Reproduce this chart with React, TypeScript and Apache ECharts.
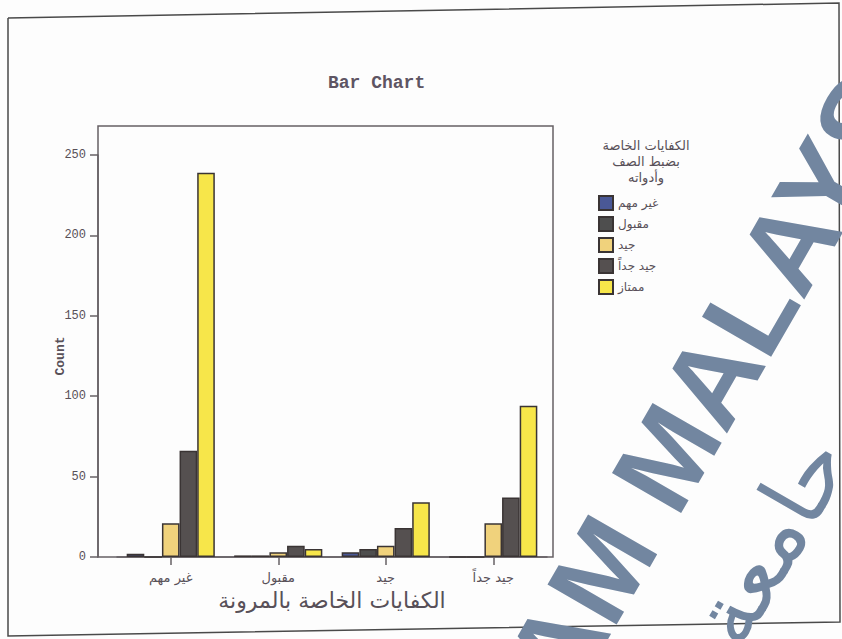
import React, { useEffect, useRef } from "react";
import * as echarts from "echarts";

// Categories on the x axis (الكفايات الخاصة بالمرونة)
const categories = ["غير مهم", "مقبول", "جيد", "جيد جداً"];
// Legend series (الكفايات الخاصة بضبط الصف وأدواته)
const seriesNames = ["غير مهم", "مقبول", "جيد", "جيد جداً", "ممتاز"];
// Counts per category for each series
const ghayrMuhim = [2, 1, 3, 0];
const maqbool = [0, 1, 5, 0];
const jayyid = [21, 3, 7, 21];
const jayyidJiddan = [66, 7, 18, 37];
const mumtaz = [239, 5, 34, 94];
const seriesValues = [ghayrMuhim, maqbool, jayyid, jayyidJiddan, mumtaz];
const seriesColors = ["#4a5896", "#4e4e4e", "#f0d27c", "#555050", "#f7e64a"];
const yTicks = { min: 0, max: 250, interval: 50 };

const legendTitle = ["الكفايات الخاصة", "بضبط الصف", "وأدواته"];
const xTitle = "الكفايات الخاصة بالمرونة";
const yTitle = "Count";
const chartTitle = "Bar Chart";
const watermark = "ISLAM MALAYSIA";
const watermarkArabic = "جامعة";

const TEXT = "#585058";
const LINE = "#666064";
const WM = "#7286a0";

export default function App() {
  const ref = useRef<HTMLDivElement>(null);
  useEffect(() => {
    if (!ref.current) return;
    const chart = echarts.init(ref.current, null, { renderer: "svg" });
    const option: any = {
      animation: false,
      backgroundColor: "#fdfdfd",
      title: {
        text: chartTitle,
        left: 328,
        top: 74,
        padding: 0,
        textStyle: {
          fontFamily: "Liberation Mono",
          fontWeight: "bold",
          fontSize: 18,
          color: "#5e5563",
        },
      },
      grid: { left: 117, top: 155, width: 430, height: 402 },
      legend: {
        orient: "vertical",
        left: 598,
        top: 195,
        padding: 0,
        itemWidth: 14,
        itemHeight: 14,
        itemGap: 5,
        icon: "rect",
        data: seriesNames,
        textStyle: { fontFamily: "DejaVu Sans", fontSize: 12, color: TEXT },
      },
      xAxis: {
        type: "category",
        data: categories,
        name: xTitle,
        nameLocation: "middle",
        nameGap: 32,
        nameTextStyle: { fontFamily: "DejaVu Sans", fontSize: 22, color: TEXT },
        axisLine: { show: true, lineStyle: { color: LINE, width: 1.5 } },
        axisTick: { show: true, alignWithLabel: true, length: 8, lineStyle: { color: LINE, width: 1.5 } },
        axisLabel: { margin: 14, fontFamily: "DejaVu Sans", fontSize: 13, color: TEXT },
        splitLine: { show: false },
      },
      yAxis: {
        type: "value",
        min: yTicks.min,
        max: yTicks.max,
        interval: yTicks.interval,
        offset: 19,
        name: yTitle,
        nameLocation: "middle",
        nameGap: 31,
        nameMoveOverlap: false,
        nameTextStyle: { fontFamily: "Liberation Mono", fontWeight: "bold", fontSize: 13, color: TEXT },
        axisLine: { show: true, lineStyle: { color: LINE, width: 1.5 } },
        axisTick: { show: true, length: 8, lineStyle: { color: LINE, width: 1.5 } },
        axisLabel: { margin: 12, fontFamily: "Liberation Mono", fontSize: 12, color: TEXT },
        splitLine: { show: false },
      },
      series: seriesNames.map((name, i) => ({
        name,
        type: "bar",
        data: seriesValues[i],
        barGap: "0%",
        barCategoryGap: "18%",
        itemStyle: { color: seriesColors[i], borderColor: "#3a3434", borderWidth: 1.5 },
      })),
      graphic: [
        {
          type: "rect",
          shape: { x: 98, y: 126, width: 455, height: 431 },
          style: { fill: "none", stroke: LINE, lineWidth: 1.5 },
          silent: true,
          z: -1,
        },
        {
          type: "polyline",
          shape: { points: [[8, 18], [839, 3], [840, 622], [8, 636], [8, 18]] },
          style: { fill: "none", stroke: "#4a4a4a", lineWidth: 1.5 },
          silent: true,
        },
        ...legendTitle.map((t, i) => ({
          type: "text",
          x: 646,
          y: 145 + i * 16,
          style: {
            text: t,
            fontFamily: "DejaVu Sans",
            fontSize: 13,
            lineHeight: 15,
            fill: TEXT,
            align: "center",
            verticalAlign: "middle",
          },
        })),
        {
          type: "text",
          x: 446,
          y: 840,
          rotation: (60 * Math.PI) / 180,
          z: 100,
          silent: true,
          style: {
            text: watermark,
            fontFamily: "Liberation Sans",
            fontWeight: "bold",
            fontSize: 116,
            fill: WM,
            align: "left",
            verticalAlign: "middle",
          },
        },
        {
          type: "text",
          x: 770,
          y: 540,
          rotation: (60 * Math.PI) / 180,
          z: 100,
          silent: true,
          style: {
            text: watermarkArabic,
            fontFamily: "DejaVu Sans",
            fontSize: 90,
            fill: WM,
            align: "center",
            verticalAlign: "middle",
          },
        },
      ],
    };
    chart.setOption(option);
    return () => chart.dispose();
  }, []);
  return <div ref={ref} style={{ width: 842, height: 639, position: "absolute", left: 0, top: 0 }} />;
}
